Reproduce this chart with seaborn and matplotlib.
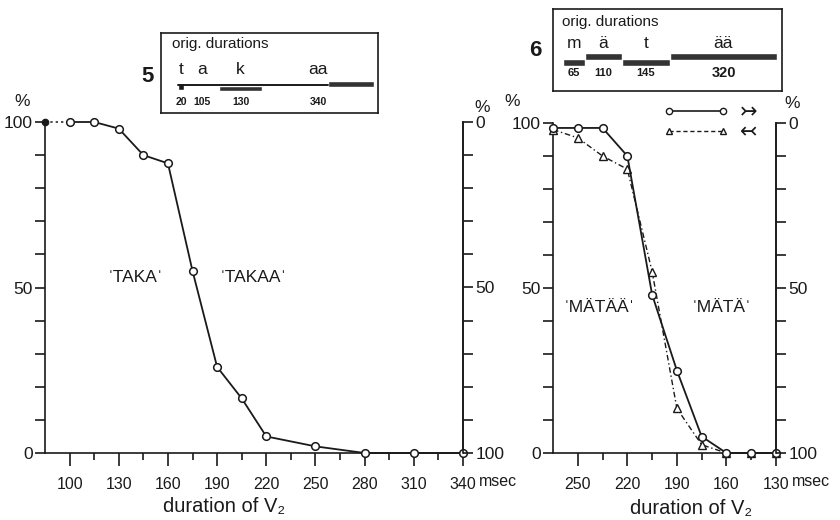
import matplotlib
matplotlib.use("Agg")
import matplotlib.pyplot as plt
from matplotlib.lines import Line2D
import seaborn as sns
import numpy as np
import pandas as pd

# --------------------- data ---------------------
# panel 5: 'TAKA' vs 'TAKAA', % 'TAKA' answers against duration of V2
dur5 = [85, 100, 115, 130, 145, 160, 175, 190, 205, 220, 250, 280, 310, 340]
pct5 = [100, 100, 100, 98, 90, 87.5, 55, 26, 16.5, 5, 2, 0, 0, 0]

# panel 6: 'MATAA' vs 'MATA', two presentation orders
dur6 = [265, 250, 235, 220, 205, 190, 175, 160, 145, 130]
pct6_fwd = [98.5, 98.5, 98.5, 90, 48, 25, 5, 0, 0, 0]    # circles  ->
pct6_back = [98, 95.5, 90, 86, 55, 13.5, 2.5, 0, 0, 0]   # triangles <-

# original segment durations (insets)
seg5 = ['t', 'a', 'k', 'aa']
ms5 = [20, 105, 130, 340]
seg6 = ['m', 'ä', 't', 'ää']
ms6 = [65, 110, 145, 320]

df5 = pd.DataFrame({'dur': dur5, 'pct': pct5})
df6 = pd.DataFrame({'dur': dur6, 'fwd': pct6_fwd, 'back': pct6_back})

# --------------------- style ---------------------
sns.set_style("ticks")
plt.rcParams['font.family'] = ['Liberation Sans', 'DejaVu Sans']
ink = '#1a1a1a'
plt.rcParams['axes.edgecolor'] = ink
plt.rcParams['xtick.color'] = ink
plt.rcParams['ytick.color'] = ink
plt.rcParams['text.color'] = ink

W, H = 840, 520
fig = plt.figure(figsize=(8.4, 5.2), dpi=100)


def px(x0, y0, x1, y1):
    # pixel box -> figure rect
    return [x0 / W, 1 - y1 / H, (x1 - x0) / W, (y1 - y0) / H]


def ftext(x, y, s, **kw):
    fig.text(x / W, 1 - y / H, s, **kw)


def pct_labels():
    return ['0' if v == 0 else '50' if v == 50 else '100' if v == 100 else ''
            for v in range(0, 101, 10)]


def style_panel(ax, xlim, xmaj, xmin):
    ax.set_xlim(*xlim)
    ax.set_ylim(0, 100)
    ax.set_xticks(xmaj)
    ax.set_xticks(xmin, minor=True)
    ax.set_yticks(range(0, 101, 10))
    ax.set_yticklabels(pct_labels())
    ax.tick_params(axis='x', which='major', length=9, width=1.2, pad=8, labelsize=11.5)
    ax.tick_params(axis='x', which='minor', length=5, width=1.2)
    ax.tick_params(axis='y', length=7, width=1.2, pad=2, labelsize=12.5)
    for s in ['left', 'bottom', 'right']:
        ax.spines[s].set_linewidth(1.2)
    ax.spines['top'].set_visible(False)
    tw = ax.twinx()
    tw.set_ylim(100, 0)
    tw.set_yticks(range(0, 101, 10))
    tw.set_yticklabels(pct_labels())
    tw.tick_params(axis='y', length=7, width=1.2, pad=2, labelsize=12.5)
    for s in tw.spines:
        tw.spines[s].set_visible(s == 'right')
    tw.spines['right'].set_linewidth(1.2)
    return tw


# ----------- panel 5 -----------
ax5 = fig.add_axes(px(45, 122, 463, 453))
style_panel(ax5, (85, 340), range(100, 341, 30), range(115, 341, 30))
ax5.plot(df5.dur[:2], df5.pct[:2], ls=(0, (1.5, 2)), color=ink, lw=1.1, clip_on=False)
sns.lineplot(data=df5.iloc[1:], x='dur', y='pct', ax=ax5, color=ink, lw=1.3,
             marker='o', markersize=5.5, markerfacecolor='white',
             markeredgecolor=ink, markeredgewidth=1.1, sort=False, clip_on=False, zorder=5)
ax5.plot(df5.dur[0], df5.pct[0], 'o', color=ink, ms=4.5, clip_on=False, zorder=6)
ax5.set_xlabel('')
ax5.set_ylabel('')
ax5.text(140, 53, 'ˈTAKAˈ', ha='center', va='center', fontsize=12.5)
ax5.text(212, 53, 'ˈTAKAAˈ', ha='center', va='center', fontsize=12.5)

# ----------- panel 6 -----------
ax6 = fig.add_axes(px(553, 123, 776, 453))
style_panel(ax6, (265, 130), range(250, 129, -30), range(235, 129, -30))
sns.lineplot(data=df6, x='dur', y='fwd', ax=ax6, color=ink, lw=1.3,
             marker='o', markersize=5.5, markerfacecolor='white',
             markeredgecolor=ink, markeredgewidth=1.1, sort=False, clip_on=False, zorder=5)
sns.lineplot(data=df6, x='dur', y='back', ax=ax6, color=ink, lw=1.0, ls=(0, (4, 2, 1, 2)),
             marker='^', markersize=6, markerfacecolor='white',
             markeredgecolor=ink, markeredgewidth=1.0, sort=False, clip_on=False, zorder=4)
ax6.set_xlabel('')
ax6.set_ylabel('')
ax6.text(237, 44, 'ˈMÄTÄÄˈ', ha='center', va='center', fontsize=12.5)
ax6.text(163, 44, 'ˈMÄTÄˈ', ha='center', va='center', fontsize=12.5)

# legend (direction of presentation)
handles = [Line2D([], [], color=ink, lw=1.2, marker='o', ms=4.5, mfc='white', mec=ink),
           Line2D([], [], color=ink, lw=1.0, ls=(0, (3, 2)), marker='^', ms=5, mfc='white', mec=ink)]
fig.legend(handles, ['↣', '↢'], loc='upper left', bbox_to_anchor=(652 / W, 1 - 93 / H),
           frameon=False, handlelength=3.2, numpoints=2, fontsize=15,
           labelspacing=0.05, borderpad=0, handletextpad=0.5)

# ----------- insets: original durations -----------
def inset(rect, xlim, height):
    a = fig.add_axes(rect)
    a.set_xlim(*xlim)
    a.set_ylim(height, 0)
    a.set_xticks([])
    a.set_yticks([])
    for s in a.spines.values():
        s.set_linewidth(1.2)
        s.set_color(ink)
    return a


a5 = inset(px(161, 33, 378, 113), (-51, 606), 80)
st5 = np.cumsum([0] + ms5[:-1])
mid5 = st5 + np.array(ms5) / 2
a5.text(-18, 11, 'orig. durations', fontsize=11, va='center')
a5.plot([st5[0], st5[-1] + ms5[-1] - 140], [52, 52], color=ink, lw=1.4)
a5.barh(53, ms5[0], left=st5[0], height=7, color=ink)
a5.barh(55.5, ms5[2], left=st5[2], height=5, color='#333333')
a5.barh(50.5, 140, left=st5[-1] + ms5[-1] - 140, height=6, color='#333333')
for s, m, d in zip(seg5, mid5, ms5):
    a5.text(m, 37, s, ha='center', va='center', fontsize=12.5)
    a5.text(m, 69, str(d), ha='center', va='center', fontsize=7.5, fontweight='bold')

a6 = inset(px(553, 9, 782, 91), (-30, 655), 82)
st6 = np.cumsum([0] + ms6[:-1])
mid6 = st6 + np.array(ms6) / 2
lvl6 = [53, 47, 53, 47]
a6.text(-3, 13, 'orig. durations', fontsize=11, va='center')
a6.barh(lvl6, ms6, left=st6, height=7, color='#333333')
for s, m, d in zip(seg6, mid6, ms6):
    a6.text(m, 34, s, ha='center', va='center', fontsize=12.5)
    a6.text(m, 64, str(d), ha='center', va='center', fontsize=8 if d != 320 else 10.5,
            fontweight='bold')

# ----------- loose labels -----------
ftext(148, 77, '5', fontsize=16, fontweight='bold', ha='center', va='center')
ftext(535, 50, '6', fontsize=16, fontweight='bold', ha='center', va='center')
ftext(22, 102, '%', fontsize=12.5, ha='center', va='center')
ftext(482, 108, '%', fontsize=12.5, ha='center', va='center')
ftext(512, 102, '%', fontsize=12.5, ha='center', va='center')
ftext(792, 104, '%', fontsize=12.5, ha='center', va='center')
ftext(479, 482, 'msec', fontsize=11.5, ha='left', va='center')
ftext(792, 482, 'msec', fontsize=11.5, ha='left', va='center')
ftext(224, 507, 'duration of V₂', fontsize=14.5, ha='center', va='center')
ftext(691, 509, 'duration of V₂', fontsize=14.5, ha='center', va='center')

fig.savefig('out.png', dpi=100)
